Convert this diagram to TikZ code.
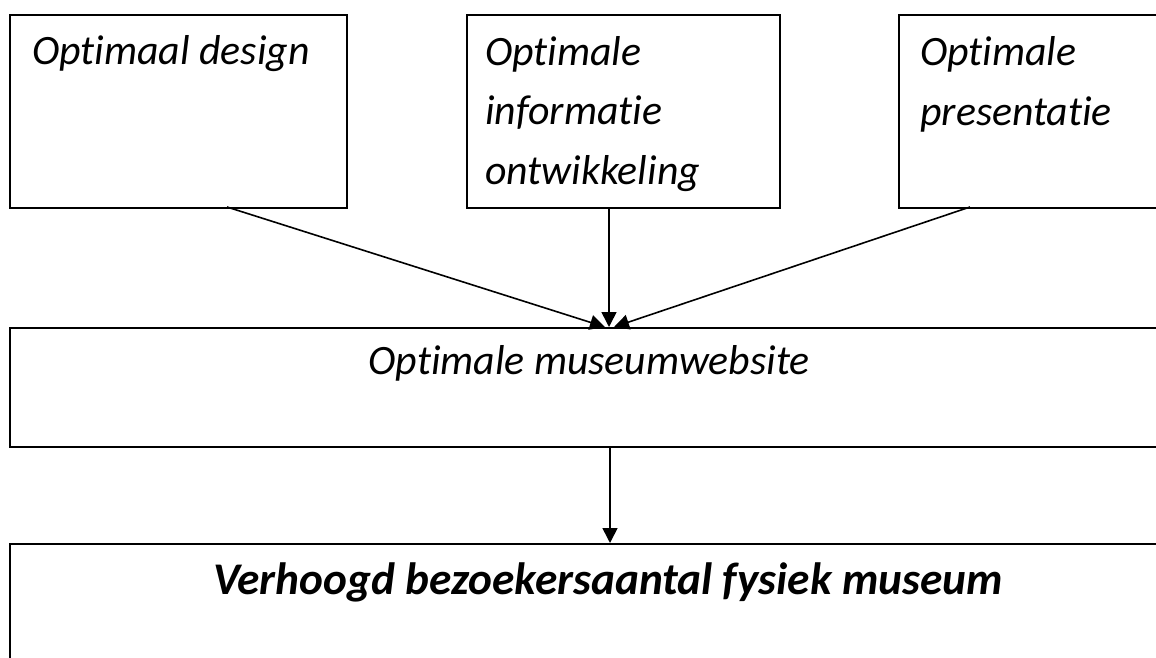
\documentclass[tikz,border=0pt]{standalone}
\usepackage{fontspec}
\setmainfont{Carlito}[Ligatures=NoCommon]
\usetikzlibrary{arrows.meta}
\tikzset{
  box/.style={draw=black, line width=1.9pt, anchor=north west, inner sep=0pt},
  lbl/.style={anchor=base west, inner sep=0pt, align=left, font=\fontsize{41.8}{59.5}\selectfont\itshape},
  conn/.style={line width=1.6pt, -{Triangle[width=15pt,length=15pt]}}
}
\begin{document}
\begin{tikzpicture}[x=1pt,y=-1pt]
\useasboundingbox (0,0) rectangle (1156,658);
\clip (0,0) rectangle (1156,658);
\node[box, minimum width=337pt, minimum height=193pt] (design) at (9,14) {};
\node[box, minimum width=313pt, minimum height=193pt] (info) at (466,14) {};
\node[box, minimum width=320pt, minimum height=193pt] (pres) at (898,14) {};
\node[box, minimum width=1198pt, minimum height=119pt] (web) at (9,327) {};
\node[box, minimum width=1198pt, minimum height=160pt] (visit) at (9,543) {};

\node[lbl] (tdesign) at (32,65) {Optimaal design};
\node[lbl] (tinfo) at (485,184) {Optimale\\informatie\\ontwikkeling};
\node[lbl] (tpres) at (920,125) {Optimale\\presentatie};
\node[lbl, anchor=base] (tweb) at (589,374) {Optimale museumwebsite};
\node[lbl, anchor=base, font=\fontsize{45.3}{60}\selectfont\bfseries\itshape] (tvisit) at (608,594) {Verhoogd bezoekersaantal fysiek museum};

\coordinate (d-out) at (227,207);
\coordinate (p-out) at (970,207);
\coordinate (i-out) at (609,207);
\coordinate (w-in-l) at (605,327);
\coordinate (w-in-m) at (609,327);
\coordinate (w-in-r) at (614,327);
\coordinate (w-out) at (610,446);
\coordinate (v-in) at (610,543);

\draw[conn] (d-out) -- (w-in-l);
\draw[conn] (i-out) -- (w-in-m);
\draw[conn] (p-out) -- (w-in-r);
\draw[conn] (w-out) -- (v-in);
\end{tikzpicture}
\end{document}
